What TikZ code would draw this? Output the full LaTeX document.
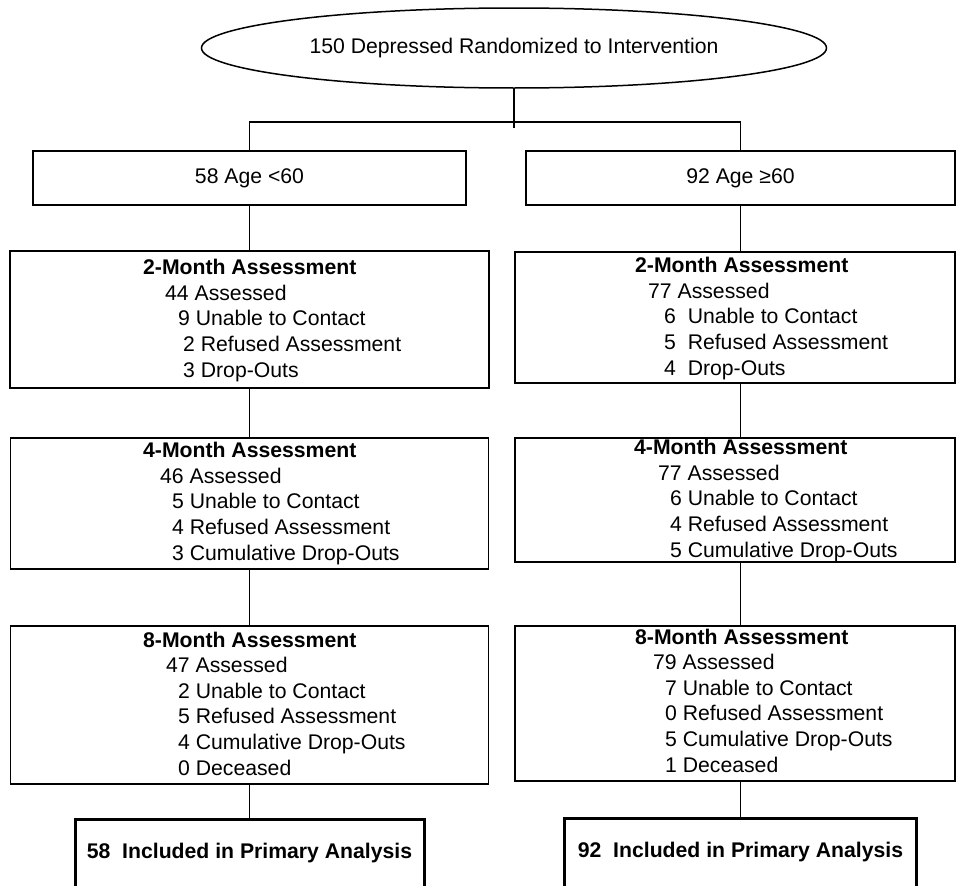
\documentclass[tikz,border=0pt]{standalone}
\usepackage{fontspec}
\setmainfont{Liberation Sans}
\usepackage{tikz}
\usetikzlibrary{shapes.geometric}
\newlength\pxu
\setlength\pxu{1pt}
\newcommand{\nudge}[1]{\hspace*{#1\pxu}}
\tikzstyle{randomized} = [ellipse, draw = black, line width=1.5pt, minimum width=625pt, minimum height=80pt, inner sep=0pt]
\tikzstyle{agegroup} = [rectangle, draw = black, line width=1.8pt, minimum height=54pt, inner sep=0pt]
\tikzstyle{assess} = [rectangle, draw = black, line width=1.8pt, inner sep=0pt]
\tikzstyle{included} = [rectangle, draw = black, line width=3pt, anchor=north, outer sep=0pt, inner sep=0pt, text height=39pt, text depth=60pt, font=\bfseries\fontsize{21.2}{25.6}\selectfont]
\tikzstyle{counts} = [anchor=base west, align=left, inner sep=0pt]
\tikzstyle{link} = [line width=1.5pt]

\begin{document}
\begin{tikzpicture}[x=1pt, y=-1pt, font=\fontsize{21.2}{25.6}\selectfont]
	\useasboundingbox (0,0) rectangle (956,886);
	\clip (0,0) rectangle (956,886);
	\node (ell) [randomized] at (514,48) {150 Depressed Randomized to Intervention};
	\node (lage) [agegroup, minimum width=433pt] at (249.5,178) {58 Age <60};
	\node (rage) [agegroup, minimum width=429pt] at (740.5,178) {92 Age ≥60};
	\node (l2) [assess, minimum width=479pt, minimum height=137pt] at (249.5,319.5) {};
	\node (r2) [assess, minimum width=440pt, minimum height=131pt] at (735,317.5) {};
	\node (l4) [assess, minimum width=478pt, minimum height=131pt] at (249.5,503.5) {};
	\node (r4) [assess, minimum width=440pt, minimum height=124pt] at (735,500) {};
	\node (l8) [assess, minimum width=478pt, minimum height=158pt] at (249.5,705) {};
	\node (r8) [assess, minimum width=440pt, minimum height=155pt] at (735,703.5) {};
	\node (lfin) [included, minimum width=349pt] at (249.5,819) {58\ \ Included in Primary Analysis};
	\node (rfin) [included, minimum width=352pt] at (740.5,818) {92\ \ Included in Primary Analysis};
	
	% counts inside the assessment boxes (placed at the last line's baseline)
	\node (l2txt) [counts] at (143,377) {\textbf{2-Month Assessment}\\\nudge{22}44 Assessed\\\nudge{35}9 Unable to Contact\\\nudge{40}2 Refused Assessment\\\nudge{40}3 Drop-Outs};
	\node (r2txt) [counts] at (635,375) {\textbf{2-Month Assessment}\\\nudge{13}77 Assessed\\\nudge{29}6\ \ Unable to Contact\\\nudge{29}5\ \ Refused Assessment\\\nudge{29}4\ \ Drop-Outs};
	\node (l4txt) [counts] at (143,560) {\textbf{4-Month Assessment}\\\nudge{17}46 Assessed\\\nudge{29}5 Unable to Contact\\\nudge{29}4 Refused Assessment\\\nudge{29}3 Cumulative Drop-Outs};
	\node (r4txt) [counts] at (634,557) {\textbf{4-Month Assessment}\\\nudge{24}77 Assessed\\\nudge{36}6 Unable to Contact\\\nudge{36}4 Refused Assessment\\\nudge{36}5 Cumulative Drop-Outs};
	\node (l8txt) [counts] at (143,775) {\textbf{8-Month Assessment}\\\nudge{23}47 Assessed\\\nudge{35}2 Unable to Contact\\\nudge{35}5 Refused Assessment\\\nudge{35}4 Cumulative Drop-Outs\\\nudge{35}0 Deceased};
	\node (r8txt) [counts] at (635,772) {\textbf{8-Month Assessment}\\\nudge{18}79 Assessed\\\nudge{30}7 Unable to Contact\\\nudge{30}0 Refused Assessment\\\nudge{30}5 Cumulative Drop-Outs\\\nudge{30}1 Deceased};
	
	\coordinate (split) at (514,122);
	\draw [link] (ell.south) -- ([yshift=-6pt]split);
	\draw [link] (lage.north) |- (split) -| (rage.north);
	\draw [link] (lage.south) -- (l2.north);
	\draw [link] (l2.south) -- (l4.north);
	\draw [link] (l4.south) -- (l8.north);
	\draw [link] (l8.south) -- (lfin.north);
	\draw [link] (rage.south) -- (rage.south |- r2.north);
	\draw [link] (r2.south -| rage) -- (r4.north -| rage);
	\draw [link] (r4.south -| rage) -- (r8.north -| rage);
	\draw [link] (r8.south -| rage) -- (rfin.north);
\end{tikzpicture}
\end{document}
